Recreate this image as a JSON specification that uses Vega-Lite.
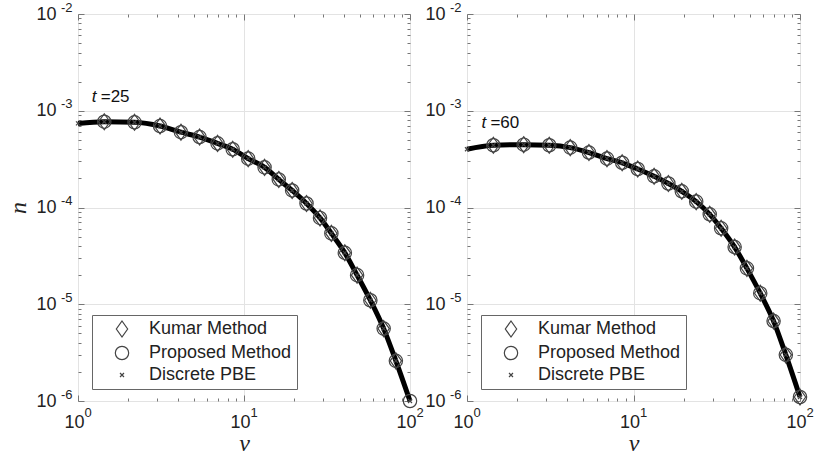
{
  "$schema": "https://vega.github.io/schema/vega-lite/v6.json",
  "background": "white",
  "padding": {"left": 6, "top": 0, "right": 5, "bottom": 5},
  "bounds": "flush",
  "spacing": 57,
  "config": {
    "font": "Liberation Sans",
    "view": {"stroke": "#8a8a8a", "strokeWidth": 1},
    "legend": {
      "orient": "none", "legendX": 14, "legendY": 301,
      "title": null, "padding": 5, "strokeColor": "#666", "fillColor": "white",
      "labelFontSize": 18, "labelFont": "Liberation Sans", "labelColor": "#222",
      "symbolStrokeColor": "#444", "symbolStrokeWidth": 1.2, "symbolSize": 178,
      "symbolFillColor": "transparent", "rowPadding": 3, "labelOffset": 18, "symbolOffset": 16
    }
  },
  "datasets": {
    "d": [
      {"t": 25, "method": "Discrete PBE", "v": 1, "n": 0.00074},
      {"t": 25, "method": "Discrete PBE", "v": 1.44, "n": 0.00077},
      {"t": 25, "method": "Discrete PBE", "v": 2.19, "n": 0.00076},
      {"t": 25, "method": "Discrete PBE", "v": 3.12, "n": 0.000695},
      {"t": 25, "method": "Discrete PBE", "v": 4.17, "n": 0.0006},
      {"t": 25, "method": "Discrete PBE", "v": 5.4, "n": 0.000535},
      {"t": 25, "method": "Discrete PBE", "v": 6.93, "n": 0.00046},
      {"t": 25, "method": "Discrete PBE", "v": 8.55, "n": 0.0004},
      {"t": 25, "method": "Discrete PBE", "v": 10.6, "n": 0.00032},
      {"t": 25, "method": "Discrete PBE", "v": 13.3, "n": 0.00026},
      {"t": 25, "method": "Discrete PBE", "v": 16.2, "n": 0.000195},
      {"t": 25, "method": "Discrete PBE", "v": 19.5, "n": 0.00015},
      {"t": 25, "method": "Discrete PBE", "v": 23.8, "n": 0.00011},
      {"t": 25, "method": "Discrete PBE", "v": 28.7, "n": 0.000078},
      {"t": 25, "method": "Discrete PBE", "v": 33.6, "n": 0.000054},
      {"t": 25, "method": "Discrete PBE", "v": 40.5, "n": 0.000034},
      {"t": 25, "method": "Discrete PBE", "v": 48, "n": 0.00002},
      {"t": 25, "method": "Discrete PBE", "v": 57.7, "n": 0.000011},
      {"t": 25, "method": "Discrete PBE", "v": 69.4, "n": 0.0000056},
      {"t": 25, "method": "Discrete PBE", "v": 82.2, "n": 0.0000026},
      {"t": 25, "method": "Discrete PBE", "v": 100, "n": 0.000001},
      {"t": 25, "method": "Kumar Method", "v": 1.44, "n": 0.00077},
      {"t": 25, "method": "Kumar Method", "v": 2.19, "n": 0.00076},
      {"t": 25, "method": "Kumar Method", "v": 3.12, "n": 0.000695},
      {"t": 25, "method": "Kumar Method", "v": 4.17, "n": 0.0006},
      {"t": 25, "method": "Kumar Method", "v": 5.4, "n": 0.000535},
      {"t": 25, "method": "Kumar Method", "v": 6.93, "n": 0.00046},
      {"t": 25, "method": "Kumar Method", "v": 8.55, "n": 0.0004},
      {"t": 25, "method": "Kumar Method", "v": 10.6, "n": 0.00032},
      {"t": 25, "method": "Kumar Method", "v": 13.3, "n": 0.00026},
      {"t": 25, "method": "Kumar Method", "v": 16.2, "n": 0.000195},
      {"t": 25, "method": "Kumar Method", "v": 19.5, "n": 0.00015},
      {"t": 25, "method": "Kumar Method", "v": 23.8, "n": 0.00011},
      {"t": 25, "method": "Kumar Method", "v": 28.7, "n": 0.000078},
      {"t": 25, "method": "Kumar Method", "v": 33.6, "n": 0.000054},
      {"t": 25, "method": "Kumar Method", "v": 40.5, "n": 0.000034},
      {"t": 25, "method": "Kumar Method", "v": 48, "n": 0.00002},
      {"t": 25, "method": "Kumar Method", "v": 57.7, "n": 0.000011},
      {"t": 25, "method": "Kumar Method", "v": 69.4, "n": 0.0000056},
      {"t": 25, "method": "Kumar Method", "v": 82.2, "n": 0.0000026},
      {"t": 25, "method": "Proposed Method", "v": 1.44, "n": 0.00077},
      {"t": 25, "method": "Proposed Method", "v": 2.19, "n": 0.00076},
      {"t": 25, "method": "Proposed Method", "v": 3.12, "n": 0.000695},
      {"t": 25, "method": "Proposed Method", "v": 4.17, "n": 0.0006},
      {"t": 25, "method": "Proposed Method", "v": 5.4, "n": 0.000535},
      {"t": 25, "method": "Proposed Method", "v": 6.93, "n": 0.00046},
      {"t": 25, "method": "Proposed Method", "v": 8.55, "n": 0.0004},
      {"t": 25, "method": "Proposed Method", "v": 10.6, "n": 0.00032},
      {"t": 25, "method": "Proposed Method", "v": 13.3, "n": 0.00026},
      {"t": 25, "method": "Proposed Method", "v": 16.2, "n": 0.000195},
      {"t": 25, "method": "Proposed Method", "v": 19.5, "n": 0.00015},
      {"t": 25, "method": "Proposed Method", "v": 23.8, "n": 0.00011},
      {"t": 25, "method": "Proposed Method", "v": 28.7, "n": 0.000078},
      {"t": 25, "method": "Proposed Method", "v": 33.6, "n": 0.000054},
      {"t": 25, "method": "Proposed Method", "v": 40.5, "n": 0.000034},
      {"t": 25, "method": "Proposed Method", "v": 48, "n": 0.00002},
      {"t": 25, "method": "Proposed Method", "v": 57.7, "n": 0.000011},
      {"t": 25, "method": "Proposed Method", "v": 69.4, "n": 0.0000056},
      {"t": 25, "method": "Proposed Method", "v": 82.2, "n": 0.0000026},
      {"t": 25, "method": "Proposed Method", "v": 100, "n": 0.000001},
      {"t": 60, "method": "Discrete PBE", "v": 1, "n": 0.0004},
      {"t": 60, "method": "Discrete PBE", "v": 1.44, "n": 0.00044},
      {"t": 60, "method": "Discrete PBE", "v": 2.19, "n": 0.000446},
      {"t": 60, "method": "Discrete PBE", "v": 3.12, "n": 0.00044},
      {"t": 60, "method": "Discrete PBE", "v": 4.17, "n": 0.000416},
      {"t": 60, "method": "Discrete PBE", "v": 5.4, "n": 0.00037},
      {"t": 60, "method": "Discrete PBE", "v": 6.93, "n": 0.00032},
      {"t": 60, "method": "Discrete PBE", "v": 8.55, "n": 0.00029},
      {"t": 60, "method": "Discrete PBE", "v": 10.6, "n": 0.00025},
      {"t": 60, "method": "Discrete PBE", "v": 13.3, "n": 0.00021},
      {"t": 60, "method": "Discrete PBE", "v": 16.2, "n": 0.000177},
      {"t": 60, "method": "Discrete PBE", "v": 19.5, "n": 0.000147},
      {"t": 60, "method": "Discrete PBE", "v": 23.8, "n": 0.000115},
      {"t": 60, "method": "Discrete PBE", "v": 28.7, "n": 0.000085},
      {"t": 60, "method": "Discrete PBE", "v": 33.6, "n": 0.000061},
      {"t": 60, "method": "Discrete PBE", "v": 40.5, "n": 0.000039},
      {"t": 60, "method": "Discrete PBE", "v": 48, "n": 0.0000235},
      {"t": 60, "method": "Discrete PBE", "v": 57.7, "n": 0.000013},
      {"t": 60, "method": "Discrete PBE", "v": 69.4, "n": 0.0000067},
      {"t": 60, "method": "Discrete PBE", "v": 82.2, "n": 0.000003},
      {"t": 60, "method": "Discrete PBE", "v": 100, "n": 0.0000011},
      {"t": 60, "method": "Kumar Method", "v": 1.44, "n": 0.00044},
      {"t": 60, "method": "Kumar Method", "v": 2.19, "n": 0.000446},
      {"t": 60, "method": "Kumar Method", "v": 3.12, "n": 0.00044},
      {"t": 60, "method": "Kumar Method", "v": 4.17, "n": 0.000416},
      {"t": 60, "method": "Kumar Method", "v": 5.4, "n": 0.00037},
      {"t": 60, "method": "Kumar Method", "v": 6.93, "n": 0.00032},
      {"t": 60, "method": "Kumar Method", "v": 8.55, "n": 0.00029},
      {"t": 60, "method": "Kumar Method", "v": 10.6, "n": 0.00025},
      {"t": 60, "method": "Kumar Method", "v": 13.3, "n": 0.00021},
      {"t": 60, "method": "Kumar Method", "v": 16.2, "n": 0.000177},
      {"t": 60, "method": "Kumar Method", "v": 19.5, "n": 0.000147},
      {"t": 60, "method": "Kumar Method", "v": 23.8, "n": 0.000115},
      {"t": 60, "method": "Kumar Method", "v": 28.7, "n": 0.000085},
      {"t": 60, "method": "Kumar Method", "v": 33.6, "n": 0.000061},
      {"t": 60, "method": "Kumar Method", "v": 40.5, "n": 0.000039},
      {"t": 60, "method": "Kumar Method", "v": 48, "n": 0.0000235},
      {"t": 60, "method": "Kumar Method", "v": 57.7, "n": 0.000013},
      {"t": 60, "method": "Kumar Method", "v": 69.4, "n": 0.0000067},
      {"t": 60, "method": "Kumar Method", "v": 82.2, "n": 0.000003},
      {"t": 60, "method": "Kumar Method", "v": 100, "n": 0.0000011},
      {"t": 60, "method": "Proposed Method", "v": 1.44, "n": 0.00044},
      {"t": 60, "method": "Proposed Method", "v": 2.19, "n": 0.000446},
      {"t": 60, "method": "Proposed Method", "v": 3.12, "n": 0.00044},
      {"t": 60, "method": "Proposed Method", "v": 4.17, "n": 0.000416},
      {"t": 60, "method": "Proposed Method", "v": 5.4, "n": 0.00037},
      {"t": 60, "method": "Proposed Method", "v": 6.93, "n": 0.00032},
      {"t": 60, "method": "Proposed Method", "v": 8.55, "n": 0.00029},
      {"t": 60, "method": "Proposed Method", "v": 10.6, "n": 0.00025},
      {"t": 60, "method": "Proposed Method", "v": 13.3, "n": 0.00021},
      {"t": 60, "method": "Proposed Method", "v": 16.2, "n": 0.000177},
      {"t": 60, "method": "Proposed Method", "v": 19.5, "n": 0.000147},
      {"t": 60, "method": "Proposed Method", "v": 23.8, "n": 0.000115},
      {"t": 60, "method": "Proposed Method", "v": 28.7, "n": 0.000085},
      {"t": 60, "method": "Proposed Method", "v": 33.6, "n": 0.000061},
      {"t": 60, "method": "Proposed Method", "v": 40.5, "n": 0.000039},
      {"t": 60, "method": "Proposed Method", "v": 48, "n": 0.0000235},
      {"t": 60, "method": "Proposed Method", "v": 57.7, "n": 0.000013},
      {"t": 60, "method": "Proposed Method", "v": 69.4, "n": 0.0000067},
      {"t": 60, "method": "Proposed Method", "v": 82.2, "n": 0.000003},
      {"t": 60, "method": "Proposed Method", "v": 100, "n": 0.0000011}
    ]
  },
  "resolve": {"legend": {"shape": "independent"}},
  "hconcat": [
    {
      "width": 332, "height": 387,
      "data": {"name": "d"},
      "transform": [{"filter": "datum.t == 25"}],
      "resolve": {"axis": {"x": "independent", "y": "independent"}},
      "layer": [
        {
          "transform": [{"filter": "datum.method == 'Discrete PBE'"}],
          "mark": {"type": "line", "stroke": "black", "strokeWidth": 5, "interpolate": "monotone"},
          "encoding": {
            "x": {"field": "v", "type": "quantitative", "scale": {"type": "log", "domain": [1, 100], "nice": false},
              "axis": {"orient": "bottom", "values": [1,2,3,4,5,6,7,8,9,10,20,30,40,50,60,70,80,90,100],
                "labelExpr": "abs(log(datum.value)/LN10-round(log(datum.value)/LN10))<1e-6 ? '10' : ''",
                "labelOverlap": false, "labelBound": false, "labelFlush": false, "labelFontSize": 18, "labelColor": "#222", "labelPadding": 18, "labelOffset": -4,
                "domain": false, "tickColor": "#777",
                "tickSize": {"condition": {"test": "abs(log(datum.value)/LN10-round(log(datum.value)/LN10))<1e-6", "value": -6}, "value": -3},
                "grid": true, "gridColor": "#e3e3e3",
                "gridOpacity": {"condition": {"test": "abs(log(datum.value)/LN10-round(log(datum.value)/LN10))<1e-6", "value": 1}, "value": 0},
                "title": "v", "titleFont": "Liberation Serif", "titleFontStyle": "italic", "titleFontWeight": "normal", "titleFontSize": 24, "titleColor": "#222", "titlePadding": -3}},
            "y": {"field": "n", "type": "quantitative", "scale": {"type": "log", "domain": [0.000001, 0.01], "nice": false},
              "axis": {"orient": "left", "values": [1e-6,2e-6,3e-6,4e-6,5e-6,6e-6,7e-6,8e-6,9e-6,1e-5,2e-5,3e-5,4e-5,5e-5,6e-5,7e-5,8e-5,9e-5,1e-4,2e-4,3e-4,4e-4,5e-4,6e-4,7e-4,8e-4,9e-4,1e-3,2e-3,3e-3,4e-3,5e-3,6e-3,7e-3,8e-3,9e-3,1e-2],
                "labelExpr": "abs(log(datum.value)/LN10-round(log(datum.value)/LN10))<1e-6 ? '10' : ''",
                "labelOverlap": false, "labelBound": false, "labelFontSize": 18, "labelColor": "#222", "labelPadding": 28,
                "domain": false, "tickColor": "#777",
                "tickSize": {"condition": {"test": "abs(log(datum.value)/LN10-round(log(datum.value)/LN10))<1e-6", "value": -6}, "value": -3},
                "grid": true, "gridColor": "#e3e3e3",
                "gridOpacity": {"condition": {"test": "abs(log(datum.value)/LN10-round(log(datum.value)/LN10))<1e-6", "value": 1}, "value": 0},
                "title": "n", "titleFont": "Liberation Serif", "titleFontStyle": "italic", "titleFontWeight": "normal", "titleFontSize": 24, "titleColor": "#222", "titlePadding": 5}}
          }
        },
        {
          "mark": {"type": "point", "opacity": 0},
          "encoding": {
            "x": {"field": "v", "type": "quantitative",
              "axis": {"orient": "bottom", "values": [1, 10, 100], "labelExpr": "'' + round(log(datum.value)/LN10)",
                "labelOverlap": false, "labelBound": false, "labelFlush": false, "labelFontSize": 13, "labelColor": "#222", "labelAlign": "left", "labelOffset": 6, "labelPadding": 5,
                "ticks": false, "grid": false, "domain": false, "title": null}},
            "y": {"field": "n", "type": "quantitative",
              "axis": {"orient": "left", "values": [1e-6, 1e-5, 1e-4, 1e-3, 1e-2], "labelExpr": "'' + round(log(datum.value)/LN10)",
                "labelOverlap": false, "labelBound": false, "labelFlush": false, "labelFontSize": 13, "labelColor": "#222", "labelAlign": "right", "labelOffset": -7, "labelPadding": 6,
                "ticks": false, "grid": false, "domain": false, "title": null}}
          }
        },
        {
          "mark": {"type": "point", "filled": false, "stroke": "#444", "strokeWidth": 1.2, "size": 178, "opacity": 1},
          "encoding": {
            "x": {"field": "v", "type": "quantitative",
              "axis": {"orient": "top", "values": [1,2,3,4,5,6,7,8,9,10,20,30,40,50,60,70,80,90,100], "labels": false, "grid": false, "domain": false, "title": null, "tickColor": "#777",
                "tickSize": {"condition": {"test": "abs(log(datum.value)/LN10-round(log(datum.value)/LN10))<1e-6", "value": -6}, "value": -3}}},
            "y": {"field": "n", "type": "quantitative",
              "axis": {"orient": "right", "values": [1e-6,2e-6,3e-6,4e-6,5e-6,6e-6,7e-6,8e-6,9e-6,1e-5,2e-5,3e-5,4e-5,5e-5,6e-5,7e-5,8e-5,9e-5,1e-4,2e-4,3e-4,4e-4,5e-4,6e-4,7e-4,8e-4,9e-4,1e-3,2e-3,3e-3,4e-3,5e-3,6e-3,7e-3,8e-3,9e-3,1e-2], "labels": false, "grid": false, "domain": false, "title": null, "tickColor": "#777",
                "tickSize": {"condition": {"test": "abs(log(datum.value)/LN10-round(log(datum.value)/LN10))<1e-6", "value": -6}, "value": -3}}},
            "shape": {"field": "method", "type": "nominal",
              "scale": {"domain": ["Kumar Method", "Proposed Method", "Discrete PBE"],
                "range": ["M0,-1.2L0.85,0L0,1.2L-0.85,0Z", "M-1,0A1,1 0 1,0 1,0A1,1 0 1,0 -1,0", "M-0.3,-0.3L0.3,0.3M-0.3,0.3L0.3,-0.3"]},
              "legend": {}}
          }
        },
        {
          "data": {"values": [{}]},
          "mark": {"type": "text", "text": "t", "fontStyle": "italic", "fontSize": 17, "align": "left", "baseline": "alphabetic", "color": "#111"},
          "encoding": {"x": {"datum": 1.21, "type": "quantitative", "axis": null}, "y": {"datum": 0.00124, "type": "quantitative", "axis": null}}
        },
        {
          "data": {"values": [{}]},
          "mark": {"type": "text", "text": "=25", "fontSize": 17, "align": "left", "baseline": "alphabetic", "dx": 9, "color": "#111"},
          "encoding": {"x": {"datum": 1.21, "type": "quantitative", "axis": null}, "y": {"datum": 0.00124, "type": "quantitative", "axis": null}}
        }
      ]
    },
    {
      "width": 333, "height": 387,
      "data": {"name": "d"},
      "transform": [{"filter": "datum.t == 60"}],
      "resolve": {"axis": {"x": "independent", "y": "independent"}},
      "layer": [
        {
          "transform": [{"filter": "datum.method == 'Discrete PBE'"}],
          "mark": {"type": "line", "stroke": "black", "strokeWidth": 5, "interpolate": "monotone"},
          "encoding": {
            "x": {"field": "v", "type": "quantitative", "scale": {"type": "log", "domain": [1, 100], "nice": false},
              "axis": {"orient": "bottom", "values": [1,2,3,4,5,6,7,8,9,10,20,30,40,50,60,70,80,90,100],
                "labelExpr": "abs(log(datum.value)/LN10-round(log(datum.value)/LN10))<1e-6 ? '10' : ''",
                "labelOverlap": false, "labelBound": false, "labelFlush": false, "labelFontSize": 18, "labelColor": "#222", "labelPadding": 18, "labelOffset": -4,
                "domain": false, "tickColor": "#777",
                "tickSize": {"condition": {"test": "abs(log(datum.value)/LN10-round(log(datum.value)/LN10))<1e-6", "value": -6}, "value": -3},
                "grid": true, "gridColor": "#e3e3e3",
                "gridOpacity": {"condition": {"test": "abs(log(datum.value)/LN10-round(log(datum.value)/LN10))<1e-6", "value": 1}, "value": 0},
                "title": "v", "titleFont": "Liberation Serif", "titleFontStyle": "italic", "titleFontWeight": "normal", "titleFontSize": 24, "titleColor": "#222", "titlePadding": -3}},
            "y": {"field": "n", "type": "quantitative", "scale": {"type": "log", "domain": [0.000001, 0.01], "nice": false},
              "axis": {"orient": "left", "values": [1e-6,2e-6,3e-6,4e-6,5e-6,6e-6,7e-6,8e-6,9e-6,1e-5,2e-5,3e-5,4e-5,5e-5,6e-5,7e-5,8e-5,9e-5,1e-4,2e-4,3e-4,4e-4,5e-4,6e-4,7e-4,8e-4,9e-4,1e-3,2e-3,3e-3,4e-3,5e-3,6e-3,7e-3,8e-3,9e-3,1e-2],
                "labelExpr": "abs(log(datum.value)/LN10-round(log(datum.value)/LN10))<1e-6 ? '10' : ''",
                "labelOverlap": false, "labelBound": false, "labelFontSize": 18, "labelColor": "#222", "labelPadding": 28,
                "domain": false, "tickColor": "#777",
                "tickSize": {"condition": {"test": "abs(log(datum.value)/LN10-round(log(datum.value)/LN10))<1e-6", "value": -6}, "value": -3},
                "grid": true, "gridColor": "#e3e3e3",
                "gridOpacity": {"condition": {"test": "abs(log(datum.value)/LN10-round(log(datum.value)/LN10))<1e-6", "value": 1}, "value": 0},
                "title": null}}
          }
        },
        {
          "mark": {"type": "point", "opacity": 0},
          "encoding": {
            "x": {"field": "v", "type": "quantitative",
              "axis": {"orient": "bottom", "values": [1, 10, 100], "labelExpr": "'' + round(log(datum.value)/LN10)",
                "labelOverlap": false, "labelBound": false, "labelFlush": false, "labelFontSize": 13, "labelColor": "#222", "labelAlign": "left", "labelOffset": 6, "labelPadding": 5,
                "ticks": false, "grid": false, "domain": false, "title": null}},
            "y": {"field": "n", "type": "quantitative",
              "axis": {"orient": "left", "values": [1e-6, 1e-5, 1e-4, 1e-3, 1e-2], "labelExpr": "'' + round(log(datum.value)/LN10)",
                "labelOverlap": false, "labelBound": false, "labelFlush": false, "labelFontSize": 13, "labelColor": "#222", "labelAlign": "right", "labelOffset": -7, "labelPadding": 6,
                "ticks": false, "grid": false, "domain": false, "title": null}}
          }
        },
        {
          "mark": {"type": "point", "filled": false, "stroke": "#444", "strokeWidth": 1.2, "size": 178, "opacity": 1},
          "encoding": {
            "x": {"field": "v", "type": "quantitative",
              "axis": {"orient": "top", "values": [1,2,3,4,5,6,7,8,9,10,20,30,40,50,60,70,80,90,100], "labels": false, "grid": false, "domain": false, "title": null, "tickColor": "#777",
                "tickSize": {"condition": {"test": "abs(log(datum.value)/LN10-round(log(datum.value)/LN10))<1e-6", "value": -6}, "value": -3}}},
            "y": {"field": "n", "type": "quantitative",
              "axis": {"orient": "right", "values": [1e-6,2e-6,3e-6,4e-6,5e-6,6e-6,7e-6,8e-6,9e-6,1e-5,2e-5,3e-5,4e-5,5e-5,6e-5,7e-5,8e-5,9e-5,1e-4,2e-4,3e-4,4e-4,5e-4,6e-4,7e-4,8e-4,9e-4,1e-3,2e-3,3e-3,4e-3,5e-3,6e-3,7e-3,8e-3,9e-3,1e-2], "labels": false, "grid": false, "domain": false, "title": null, "tickColor": "#777",
                "tickSize": {"condition": {"test": "abs(log(datum.value)/LN10-round(log(datum.value)/LN10))<1e-6", "value": -6}, "value": -3}}},
            "shape": {"field": "method", "type": "nominal",
              "scale": {"domain": ["Kumar Method", "Proposed Method", "Discrete PBE"],
                "range": ["M0,-1.2L0.85,0L0,1.2L-0.85,0Z", "M-1,0A1,1 0 1,0 1,0A1,1 0 1,0 -1,0", "M-0.3,-0.3L0.3,0.3M-0.3,0.3L0.3,-0.3"]},
              "legend": {}}
          }
        },
        {
          "data": {"values": [{}]},
          "mark": {"type": "text", "text": "t", "fontStyle": "italic", "fontSize": 17, "align": "left", "baseline": "alphabetic", "color": "#111"},
          "encoding": {"x": {"datum": 1.22, "type": "quantitative", "axis": null}, "y": {"datum": 0.00066, "type": "quantitative", "axis": null}}
        },
        {
          "data": {"values": [{}]},
          "mark": {"type": "text", "text": "=60", "fontSize": 17, "align": "left", "baseline": "alphabetic", "dx": 9, "color": "#111"},
          "encoding": {"x": {"datum": 1.22, "type": "quantitative", "axis": null}, "y": {"datum": 0.00066, "type": "quantitative", "axis": null}}
        }
      ]
    }
  ]
}
